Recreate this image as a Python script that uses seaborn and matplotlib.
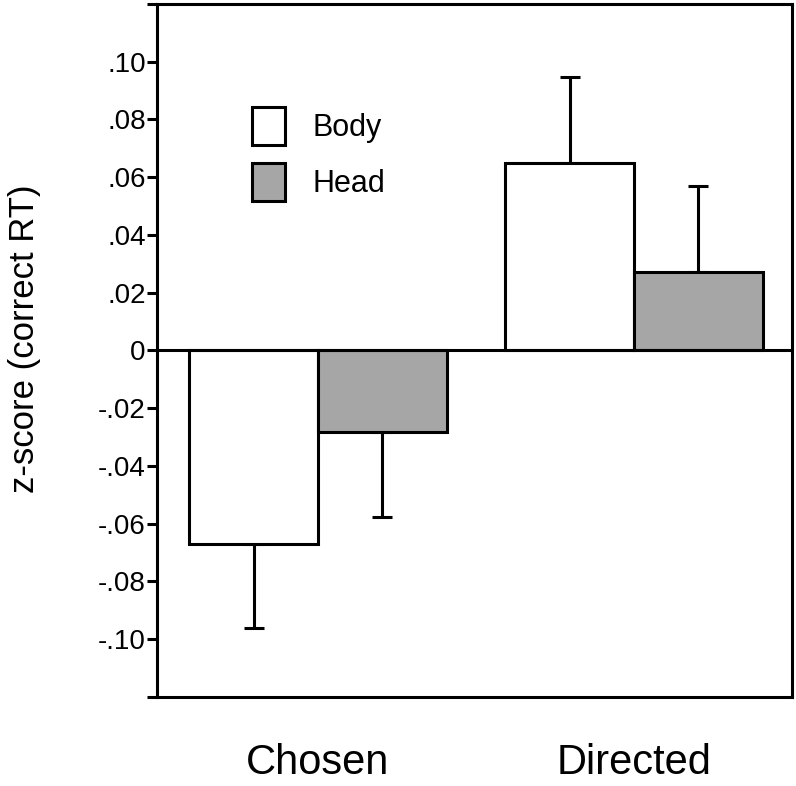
import matplotlib
matplotlib.use("Agg")
import matplotlib.pyplot as plt
from matplotlib.patches import Patch
from matplotlib import font_manager
import seaborn as sns
import pandas as pd
import numpy as np

# ---- data ----
conditions = ["Chosen", "Chosen", "Directed", "Directed"]
parts = ["Body", "Head", "Body", "Head"]
zscores = [-0.067, -0.0284, 0.065, 0.0272]
sems = [0.029, 0.0294, 0.0295, 0.0297]
ytick_values = [-0.12, -0.10, -0.08, -0.06, -0.04, -0.02, 0.0, 0.02, 0.04, 0.06, 0.08, 0.10, 0.12]
ytick_labels = ["", "-.10", "-.08", "-.06", "-.04", "-.02", "0", ".02", ".04", ".06", ".08", ".10", ""]
colors = {"Body": "#ffffff", "Head": "#a6a6a6"}

df = pd.DataFrame({"condition": conditions, "part": parts, "z": zscores, "sem": sems})

sns.set_style("white")
plt.rcParams["font.family"] = ["Liberation Sans", "DejaVu Sans"]
plt.rcParams["text.color"] = "black"
plt.rcParams["axes.labelcolor"] = "black"
plt.rcParams["xtick.color"] = "black"
plt.rcParams["ytick.color"] = "black"

names = {f.name for f in font_manager.fontManager.ttflist}
tick_family = ["Liberation Sans Narrow", "Liberation Sans", "DejaVu Sans"] if "Liberation Sans Narrow" in names else ["Liberation Sans", "DejaVu Sans"]
tick_size = 22 if "Liberation Sans Narrow" in names else 20

fig = plt.figure(figsize=(7.96, 7.86), dpi=100)
ax = fig.add_axes([0.197, 0.1132, 0.798, 0.882])

sns.barplot(data=df, x="condition", y="z", hue="part", hue_order=["Body", "Head"],
            order=["Chosen", "Directed"], palette=colors, edgecolor="black",
            linewidth=2.2, width=0.815, errorbar=None, saturation=1, ax=ax, zorder=3)

# error bars (one-sided, away from zero)
for container, part in zip(ax.containers, ["Body", "Head"]):
    sub = df[df["part"] == part].set_index("condition").loc[["Chosen", "Directed"]]
    xs = [p.get_x() + p.get_width() / 2 for p in container.patches]
    vals = sub["z"].to_numpy()
    errs = sub["sem"].to_numpy()
    lower = np.where(vals < 0, errs, 0)
    upper = np.where(vals >= 0, errs, 0)
    ax.errorbar(xs, vals, yerr=[lower, upper], fmt="none", ecolor="black",
                elinewidth=2.2, capsize=7.2, capthick=2.2, zorder=2)

ax.axhline(0, color="black", lw=2.2, zorder=4)

ax.set_xlim(-0.51, 1.5)
ax.set_ylim(-0.12, 0.12)
ax.set_yticks(ytick_values)
ax.set_yticklabels(ytick_labels, fontsize=tick_size, family=tick_family)
ax.tick_params(axis="y", direction="out", length=7, width=2.2, left=True, pad=1)
ax.tick_params(axis="x", length=0, labelsize=30, pad=33)
ax.set_xlabel("")
ax.set_ylabel("z-score (correct RT)", fontsize=25)
ax.yaxis.set_label_coords(-0.183, 0.517)

for s in ax.spines.values():
    s.set_visible(True)
    s.set_color("black")
    s.set_linewidth(2.2)

if ax.get_legend() is not None:
    ax.get_legend().remove()
handles = [Patch(facecolor=colors[p], edgecolor="black", linewidth=2.2) for p in ["Body", "Head"]]
ax.legend(handles, ["Body", "Head"], loc="upper left", bbox_to_anchor=(0.15, 0.851),
          frameon=False, fontsize=22, handlelength=1.08, handleheight=1.53,
          labelspacing=0.59, handletextpad=0.9, borderpad=0, borderaxespad=0)

fig.savefig("out.png", dpi=100)
